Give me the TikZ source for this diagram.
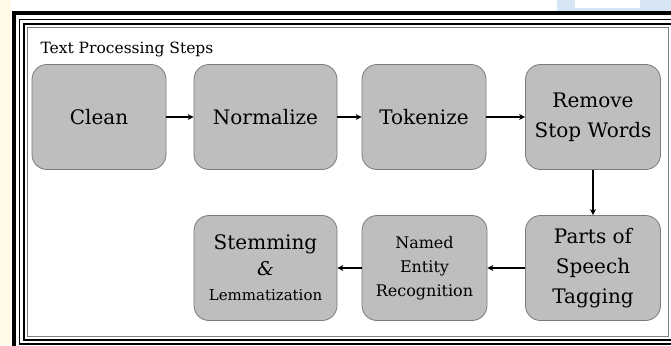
\documentclass[tikz,border=0pt]{standalone}
\usepackage{fontspec}
\setmainfont{DejaVu Serif}
\usepackage{tikz}
\usetikzlibrary{arrows.meta}

\definecolor{stepfill}{HTML}{BEBEBE}
\definecolor{stepline}{HTML}{7A7A7A}
\definecolor{creamside}{HTML}{FFFAE8}
\definecolor{bluepatch}{HTML}{D8E5F5}

\begin{document}
\begin{tikzpicture}[x=1pt,y=-1pt,
	stepbox/.style={shape=rectangle,rounded corners=15pt,draw=stepline,fill=stepfill,
		line width=0.8pt,inner sep=0pt,minimum height=105pt,align=center,
		font=\fontsize{20}{30}\selectfont},
	smalltext/.style={font=\fontsize{16}{24}\selectfont},
	flow/.style={-{Stealth[length=6pt,width=6pt]},line width=2pt,black}]
	
	\useasboundingbox (0,0) rectangle (671,345);
	
	% page behind the frame
	\fill[creamside] (0,0) rectangle (11,345);
	\fill[bluepatch] (557,0) rectangle (671,11);
	\fill[white] (575,0) rectangle (640,8);
	
	% frame
	\draw[line width=4pt] (13.5,13.5) rectangle (690,350);
	\draw[line width=1.7pt] (19.5,19.5) rectangle (675,344);
	\draw[line width=1.7pt] (24,24) rectangle (671.5,340);
	\draw[line width=0.6pt,gray] (27.5,27.5) rectangle (668,336);
	
	\node[anchor=base west,font=\fontsize{15.5}{18}\selectfont] (title) at (37,53) {Text Processing Steps};
	
	\node[stepbox,minimum width=134pt] (clean) at (99, 117)     {Clean};
	\node[stepbox,minimum width=143pt] (norm) at (265.5, 117)   {Normalize};
	\node[stepbox,minimum width=124pt] (tok) at (424, 117)      {Tokenize};
	\node[stepbox,minimum width=135pt] (stop) at (593, 117)     {Remove\\Stop Words};
	\node[stepbox,minimum width=135pt] (pos) at (593, 268)      {Parts of\\Speech\\Tagging};
	\node[stepbox,minimum width=125pt,smalltext] (ner) at (424.5, 268) {Named\\Entity\\Recognition};
	\node[stepbox,minimum width=143pt] (stem) at (265.5, 268)
		{Stemming\\[-4pt]{\fontsize{19}{22}\selectfont\itshape\&}\\[-5pt]{\fontsize{15}{18}\selectfont Lemmatization}};
	
	\draw[flow] (clean) -- (norm);
	\draw[flow] (norm) -- (tok);
	\draw[flow] (tok) -- (stop);
	\draw[flow] (stop) -- (pos);
	\draw[flow] (pos) -- (ner);
	\draw[flow] (ner) -- (stem);

\end{tikzpicture}
\end{document}
